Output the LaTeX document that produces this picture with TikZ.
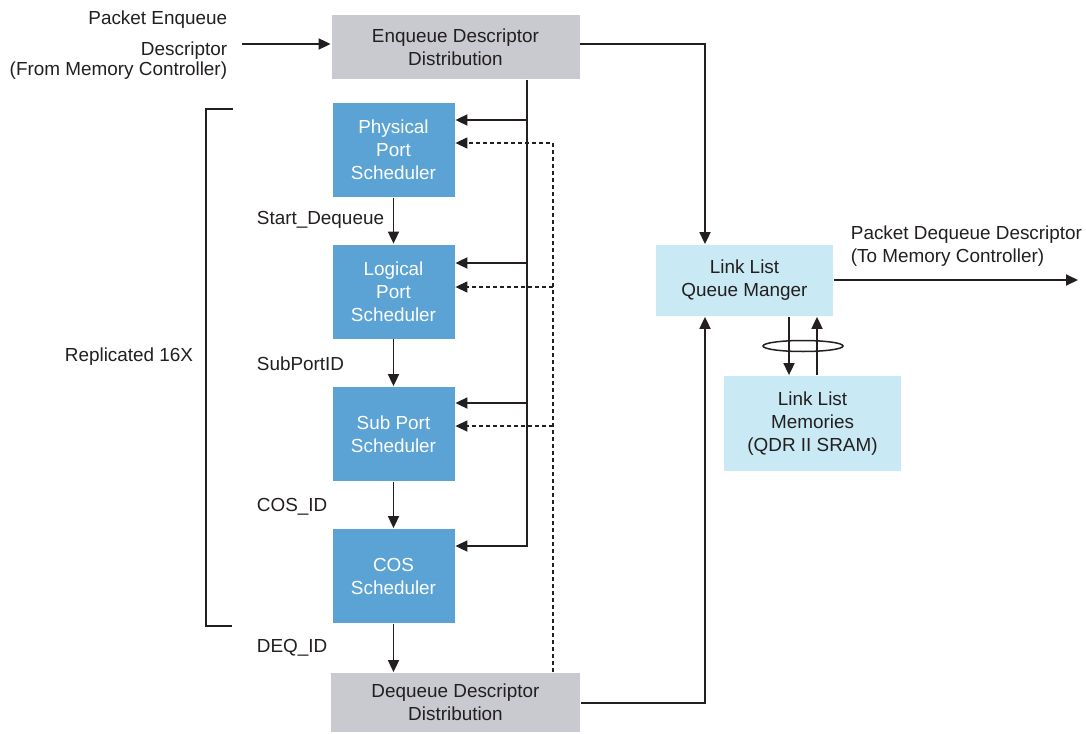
\documentclass[tikz,border=0pt]{standalone}
\usepackage{fontspec}
\setmainfont{Liberation Sans}
\usetikzlibrary{arrows.meta}

\definecolor{distgray}{RGB}{200,202,208}
\definecolor{schedblue}{RGB}{91,163,213}
\definecolor{qmblue}{RGB}{201,233,244}
\definecolor{inkdark}{RGB}{35,31,32}

\tikzset{every picture/.style={line width=1.8pt}}
\tikzset{
  distbox/.style={fill=distgray, text=inkdark, align=center, inner sep=0pt},
  schedbox/.style={fill=schedblue, text=white, align=center, inner sep=0pt,
    minimum width=122pt, minimum height=94pt},
  qmbox/.style={fill=qmblue, text=inkdark, align=center, inner sep=0pt,
    minimum width=177pt},
  lbl/.style={text=inkdark, inner sep=0pt},
  arr/.style={draw=inkdark, -{Triangle[length=12pt,width=11pt]}},
  dasharr/.style={arr, line width=1.4pt, dash pattern=on 4pt off 3pt}
}

\begin{document}
\begin{tikzpicture}[x=1pt,y=1pt,yscale=-1,xscale=1,
  font=\fontsize{18.9}{23}\selectfont]
\useasboundingbox (0,0) rectangle (1086,733);

%Shape: Rectangle -- distribution blocks
\node[distbox, minimum width=248pt, minimum height=64pt] (enq) at (455.5,47) {Enqueue Descriptor\\Distribution};
\node[distbox, minimum width=249pt, minimum height=59pt] (deq) at (455.5,702.5) {Dequeue Descriptor\\Distribution};

%Shape: Rectangle -- scheduler chain
\node[schedbox] (phy) at (393.5,150) {Physical\\Port\\Scheduler};
\node[schedbox] (log) at (393.5,291.5) {Logical\\Port\\Scheduler};
\node[schedbox] (sub) at (393.5,434) {Sub Port\\Scheduler};
\node[schedbox] (cos) at (393.5,576) {COS\\Scheduler};

%Shape: Rectangle -- link list
\node[qmbox, minimum height=71pt] (llqm) at (744.5,280.5) {Link List\\Queue Manger};
\node[qmbox, minimum height=95pt] (llmem) at (812.5,423.5) {Link List\\Memories\\(QDR II SRAM)};

%Straight Lines -- input descriptor
\coordinate (inp) at (242,44);
\draw[arr] (inp) -- (enq.west |- inp);
% Text Node
\node[lbl, anchor=east, align=right] (inlbl) at (228,45.5) {Packet Enqueue\\[8pt]Descriptor\\[-3pt](From Memory Controller)};

%Straight Lines -- enqueue to queue manager
\coordinate (jq) at (705,44);
\draw[arr] (enq.east |- jq) -- (jq) -- (jq |- llqm.north);

%Straight Lines -- dequeue to queue manager
\coordinate (jd) at (705,703);
\draw[arr] (deq.east |- jd) -- (jd) -- (jd |- llqm.south);

%Straight Lines -- output descriptor
\coordinate (outp) at (1078,280);
\draw[arr] (llqm.east |- outp) -- (outp);
% Text Node
\node[lbl, anchor=west, align=left] (outlbl) at (850,246.5) {Packet Dequeue Descriptor\\(To Memory Controller)};

%Straight Lines -- memory read / write
\coordinate (wr) at (789,346);
\coordinate (rd) at (817,346);
\draw[draw=inkdark, line width=1.5pt] (803,346) ellipse [x radius=40, y radius=5.5];
\draw[arr] (llqm.south -| wr) -- (llmem.north -| wr);
\draw[arr] (llmem.north -| rd) -- (llqm.south -| rd);

%Straight Lines -- enqueue bus
\coordinate (bus) at (527,546);
\draw[arr] (enq.south -| bus) -- (bus) -- (cos.east |- bus);
\foreach \n/\y in {phy/120, log/263, sub/403}{
  \coordinate (tap) at (527,\y);
  \draw[arr] (tap) -- (\n.east |- tap);
}

%Straight Lines -- dequeue feedback (dashed)
\coordinate (fb) at (553,143);
\draw[dasharr] (deq.north -| fb) -- (fb) -- (phy.east |- fb);
\foreach \n/\y in {log/287, sub/426}{
  \coordinate (tap) at (553,\y);
  \draw[dasharr] (tap) -- (\n.east |- tap);
}

%Straight Lines -- scheduler chain
\draw[arr] (phy.south) -- (log.north);
\draw[arr] (log.south) -- (sub.north);
\draw[arr] (sub.south) -- (cos.north);
\draw[arr] (cos.south) -- (cos.south |- deq.north);

% Text Node
\node[lbl, anchor=west] (sdq) at (256,220) {Start\_Dequeue};
\node[lbl, anchor=west] (spid) at (256,364) {SubPortID};
\node[lbl, anchor=west] (cosid) at (256,507) {COS\_ID};
\node[lbl, anchor=west] (deqid) at (256,648) {DEQ\_ID};

%Shape: Bracket -- replicated part
\draw[draw=inkdark, line width=1.5pt] (233,109) -- (206,109) -- (206,626) -- (232,626);
% Text Node
\node[lbl, anchor=east] (rep) at (194,357) {Replicated 16X};

\end{tikzpicture}
\end{document}
